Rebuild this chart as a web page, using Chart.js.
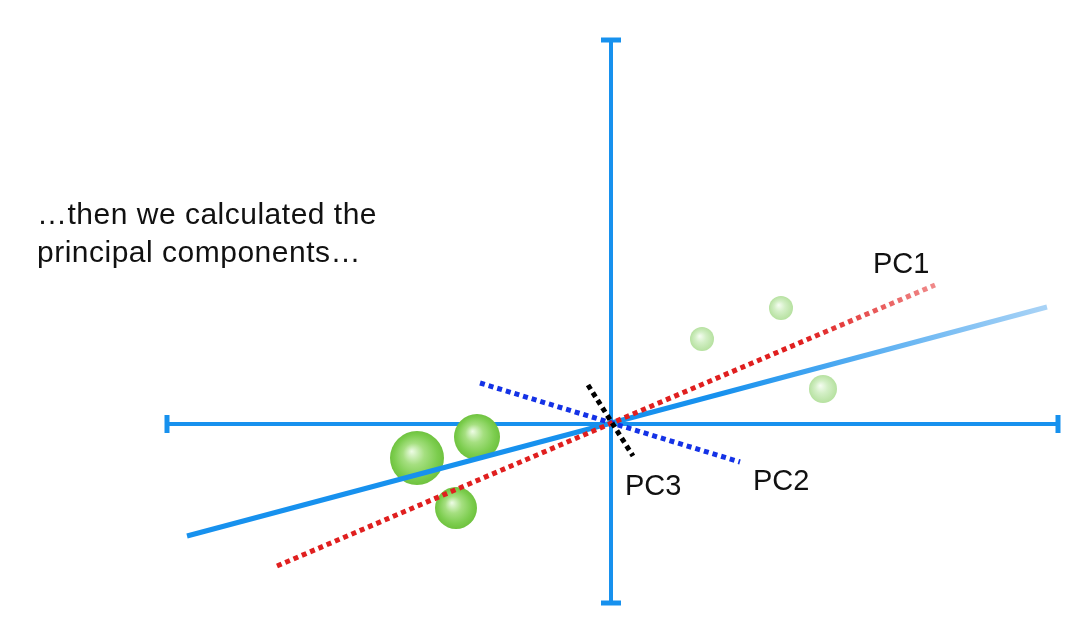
<!DOCTYPE html>
<html>
<head>
<meta charset="utf-8">
<script src="https://cdn.jsdelivr.net/npm/chart.js@4"></script>
<style>
  body { margin: 0; background: #fff; }
  #wrap { position: relative; width: 1082px; height: 619px; }
  #caption {
    position: absolute; left: 37px; top: 195px;
    font-family: "Liberation Sans", Arial, sans-serif;
    font-size: 30px; line-height: 38px; letter-spacing: 0.5px; color: #111;
  }
</style>
</head>
<body>
<div id="wrap">
  <canvas id="myChart"></canvas>
  <div id="caption">…then we calculated the<br>principal components…</div>
</div>
<script>
// data space: origin of the plotted axes at (0, 0)
const xAxisEnds = [-444, 447]
const yAxisEnds = [-179, 384]

const fitLineX = [-424, 436]
const fitLineY = [-112, 117]

const pc1X = [-334, 324]
const pc1Y = [-142, 139]
const pc2X = [-131, 129]
const pc2Y = [41, -38]
const pc3X = [-23, 22]
const pc3Y = [39, -32]

const pointsX = [-194, -134, -155, 91, 170, 212]
const pointsY = [-34, -13, -84, 85, 116, 35]
const pointsR = [27, 23, 21, 12, 12, 14]
const pointsFaded = [false, false, false, true, true, true]

const labelTexts = ['PC1', 'PC2', 'PC3']
const labelX = [262, 142, 14]
const labelY = [151, -66, -71]

const toXY = (xs, ys) => xs.map((x, i) => ({ x: x, y: ys[i] }))

const axisBlue = '#1791ee'

const ready = (chart) => chart.chartArea && chart.scales.x && chart.scales.y &&
    isFinite(chart.scales.x.getPixelForValue(0)) && isFinite(chart.scales.y.getPixelForValue(0))

// gradient along a line from first to last point, fading at the right end
const fadeLine = (xs, ys, solid, light, stop) => (ctx) => {
    const chart = ctx.chart
    if (!ready(chart)) return solid
    const sx = chart.scales.x, sy = chart.scales.y
    const g = chart.ctx.createLinearGradient(
        sx.getPixelForValue(xs[0]), sy.getPixelForValue(ys[0]),
        sx.getPixelForValue(xs[1]), sy.getPixelForValue(ys[1]))
    g.addColorStop(0, solid)
    g.addColorStop(stop, solid)
    g.addColorStop(1, light)
    return g
}

const sphereFill = (ctx) => {
    const chart = ctx.chart
    const p = ctx.raw
    if (!ready(chart) || !p) return '#7ccc50'
    const sx = chart.scales.x, sy = chart.scales.y
    const cx = sx.getPixelForValue(p.x), cy = sy.getPixelForValue(p.y)
    const r = p.r
    const g = chart.ctx.createRadialGradient(cx - r * 0.2, cy - r * 0.25, 0, cx, cy, r)
    if (pointsFaded[ctx.dataIndex]) {
        g.addColorStop(0, '#f6fdf2')
        g.addColorStop(0.45, '#d3efc6')
        g.addColorStop(1, '#b6e1a0')
    } else {
        g.addColorStop(0, '#eefce6')
        g.addColorStop(0.4, '#a5df80')
        g.addColorStop(0.8, '#7ccd4e')
        g.addColorStop(1, '#6fc23f')
    }
    return g
}

const labelPlugin = {
    id: 'pcLabels',
    afterDatasetsDraw(chart) {
        const c = chart.ctx
        const sx = chart.scales.x, sy = chart.scales.y
        c.save()
        c.font = '29px "Liberation Sans", Arial, sans-serif'
        c.fillStyle = '#111'
        c.textBaseline = 'alphabetic'
        labelTexts.forEach((t, i) => {
            c.fillText(t, sx.getPixelForValue(labelX[i]), sy.getPixelForValue(labelY[i]))
        })
        c.restore()
    }
}

const lineSet = (data, color, width, dash, order) => ({
    type: 'line',
    data: data,
    borderColor: color,
    borderWidth: width,
    borderDash: dash,
    pointRadius: 0,
    fill: false,
    order: order
})

const chart = () => {
    const ctx = document.getElementById('myChart')

    new Chart(ctx, {
        data: {
            datasets: [
                lineSet(toXY(pc3X, pc3Y), '#000000', 5, [5, 4], 0),
                lineSet(toXY(pc1X, pc1Y), fadeLine(pc1X, pc1Y, '#e01f1f', '#f08a8a', 0.8), 5, [5, 4], 1),
                lineSet(toXY(pc2X, pc2Y), '#1432e6', 5, [5, 4], 2),
                lineSet(toXY(fitLineX, fitLineY), fadeLine(fitLineX, fitLineY, '#1791ee', '#a9d3f6', 0.62), 5, [], 3),
                {
                    type: 'bubble',
                    data: pointsX.map((x, i) => ({ x: x, y: pointsY[i], r: pointsR[i] })),
                    backgroundColor: sphereFill,
                    borderWidth: 0,
                    order: 4
                },
                {
                    type: 'line',
                    data: toXY(xAxisEnds, [0, 0]),
                    borderColor: axisBlue,
                    borderWidth: 4,
                    pointStyle: 'line',
                    rotation: 90,
                    pointRadius: 9,
                    pointBorderColor: axisBlue,
                    pointBorderWidth: 5,
                    order: 5
                },
                {
                    type: 'line',
                    data: toXY([0, 0], yAxisEnds),
                    borderColor: axisBlue,
                    borderWidth: 4,
                    pointStyle: 'line',
                    rotation: 0,
                    pointRadius: 10,
                    pointBorderColor: axisBlue,
                    pointBorderWidth: 5,
                    order: 6
                }
            ]
        },
        options: {
            responsive: true,
            maintainAspectRatio: false,
            animation: false,
            events: [],
            layout: { padding: 0, autoPadding: false },
            plugins: { legend: { display: false }, tooltip: { enabled: false } },
            scales: {
                x: { type: 'linear', min: -611, max: 471, display: false },
                y: { type: 'linear', min: -195, max: 424, display: false }
            }
        },
        plugins: [labelPlugin]
    })
}

chart()
</script>
</body>
</html>
